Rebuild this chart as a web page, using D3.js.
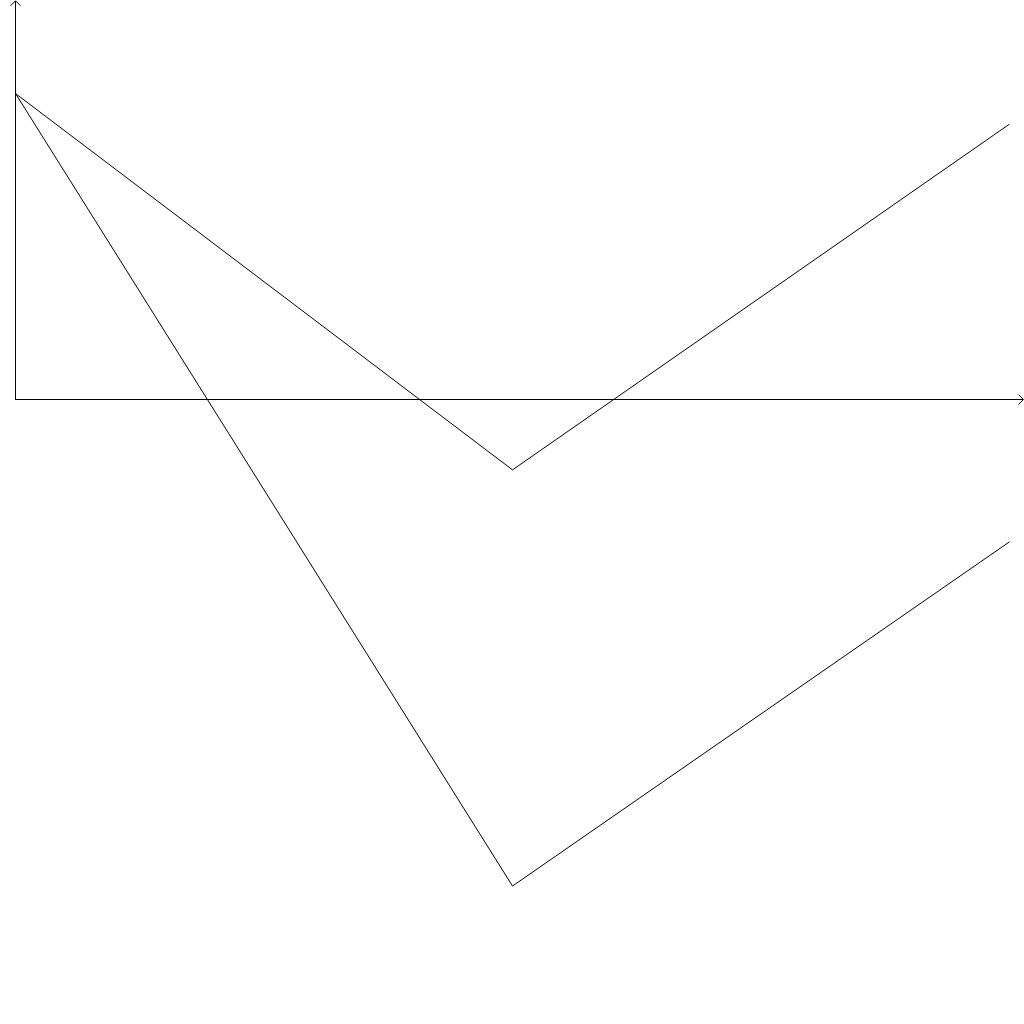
<!DOCTYPE html>
<html><head><meta charset="utf-8">
<script src="https://cdn.jsdelivr.net/npm/d3@7"></script>
<style>html,body{margin:0;padding:0;background:#fff;}svg{display:block;}</style>
</head><body>
<script>
const xValues = [0, 1, 2];
const seriesA = [1, -0.23, 0.9];
const seriesB = [1, -1.59, -0.465];
const xAxisEnd = 2.028;
const yAxisTop = 1.303;

const W = 1024, H = 1024;
const svg = d3.select("body").append("svg").attr("width", W).attr("height", H);
const x = d3.scaleLinear().domain([0, 2]).range([15.5, 1009.5]);
const y = d3.scaleLinear().domain([0, 1]).range([399.5, 93.5]);

// axes
const ax = svg.append("g").attr("stroke", "#000").attr("stroke-width", 1).attr("fill", "none").attr("shape-rendering", "crispEdges");
ax.append("line").attr("x1", x(0)).attr("x2", x(xAxisEnd)).attr("y1", y(0)).attr("y2", y(0));
ax.append("line").attr("x1", x(0)).attr("x2", x(0)).attr("y1", y(0)).attr("y2", y(yAxisTop));
const ah = svg.append("g").attr("stroke", "#000").attr("stroke-width", 1).attr("fill", "none");
ah.append("path").attr("d", `M${x(0)-5},${y(yAxisTop)+5}L${x(0)},${y(yAxisTop)}L${x(0)+5},${y(yAxisTop)+5}`);
ah.append("path").attr("d", `M${x(xAxisEnd)-5},${y(0)-5}L${x(xAxisEnd)},${y(0)}L${x(xAxisEnd)-5},${y(0)+5}`);

const line = d3.line().x((d, i) => x(xValues[i])).y(d => y(d));
[seriesA, seriesB].forEach(s => {
  svg.append("path").datum(s).attr("d", line).attr("fill", "none").attr("stroke", "#000").attr("stroke-width", 1);
});
</script>
</body></html>
